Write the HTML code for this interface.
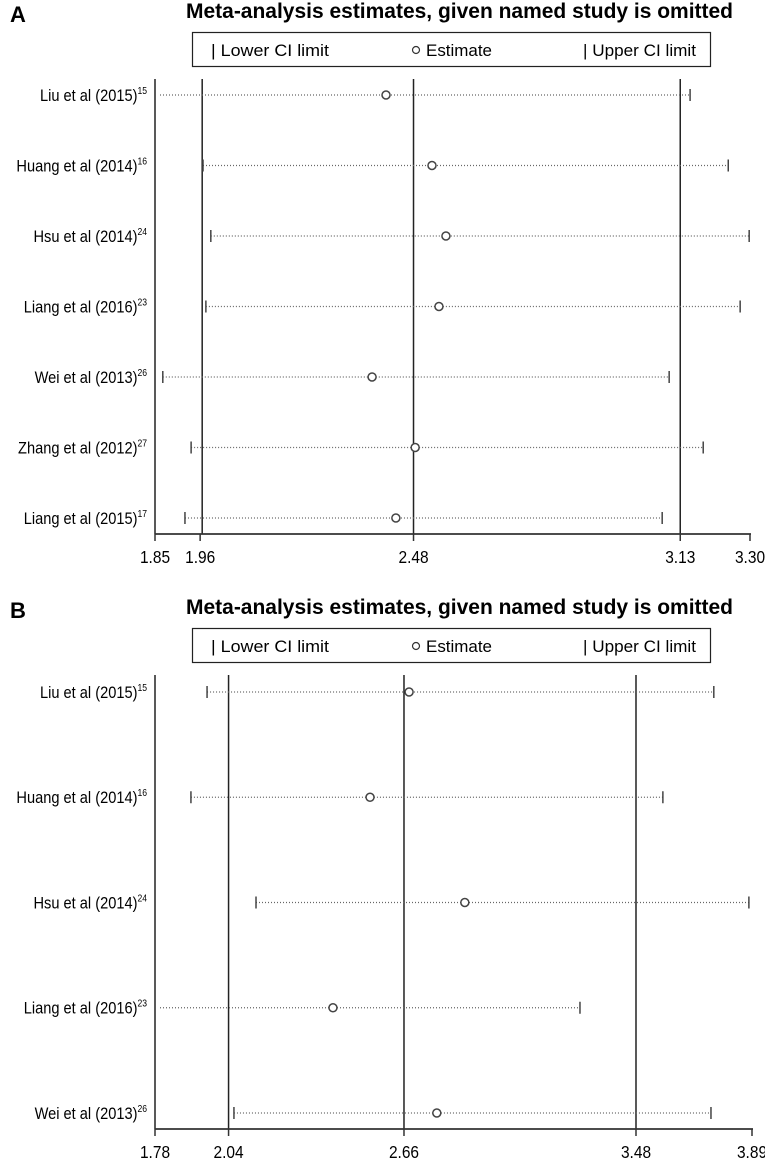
<!DOCTYPE html>
<html><head><meta charset="utf-8"><style>
html,body{margin:0;padding:0;background:#fff}
svg{display:block;font-family:"Liberation Sans",Arial,sans-serif}
</style></head><body>
<svg id="chart" width="765" height="1158" viewBox="0 0 765 1158" xmlns="http://www.w3.org/2000/svg"></svg>
<script>
const studiesA = ["Liu et al (2015)","Huang et al (2014)","Hsu et al (2014)","Liang et al (2016)","Wei et al (2013)","Zhang et al (2012)","Liang et al (2015)"];
const refsA = ["15","16","24","23","26","27","17"];
const lowerA = [1.83,1.967,1.986,1.974,1.869,1.938,1.923];
const estA = [2.413,2.525,2.559,2.542,2.379,2.484,2.437];
const upperA = [3.154,3.247,3.298,3.276,3.103,3.186,3.086];
const ticksA = [1.85,1.96,2.48,3.13,3.30];
const refLinesA = [1.965,2.48,3.13];

const studiesB = ["Liu et al (2015)","Huang et al (2014)","Hsu et al (2014)","Liang et al (2016)","Wei et al (2013)"];
const refsB = ["15","16","24","23","26"];
const lowerB = [1.964,1.907,2.137,1.70,2.059];
const estB = [2.678,2.540,2.875,2.409,2.776];
const upperB = [3.755,3.575,3.879,3.282,3.745];
const ticksB = [1.78,2.04,2.66,3.48,3.89];
const refLinesB = [2.04,2.66,3.48];

const NS="http://www.w3.org/2000/svg";
const svg=document.getElementById('chart');
function mk(tag,attrs,parent,text){const e=document.createElementNS(NS,tag);for(const k in attrs)e.setAttribute(k,attrs[k]);if(text!==undefined)e.textContent=text;(parent||svg).appendChild(e);return e;}

function panel(cfg){
  const g=mk('g',{});
  
  
  const x=v=>cfg.x0+(v-cfg.dmin)/(cfg.dmax-cfg.dmin)*(cfg.x1-cfg.x0);
  const L=mk('text',{x:10,y:cfg.top+22,'font-size':22,'font-weight':'bold'},g,cfg.letter);
  
  
  const T=mk('text',{x:186,y:cfg.top+18,'font-size':21,'font-weight':'bold',textLength:547,lengthAdjust:'spacingAndGlyphs'},g,'Meta-analysis estimates, given named study is omitted');
  
  
  const lg=mk('g',{},g);
  
  
  mk('rect',{x:192.5,y:cfg.top+32.5,width:518,height:34,fill:'none',stroke:'#222','stroke-width':1.2},lg);
  const ly=cfg.top+56;
  const e1=mk('text',{x:211,y:ly,'font-size':17,textLength:118,lengthAdjust:'spacingAndGlyphs'},lg,'| Lower CI limit');
  
  
  mk('circle',{cx:416,cy:ly-6,r:3.5,fill:'none',stroke:'#333','stroke-width':1.2},lg);
  const e2=mk('text',{x:426,y:ly,'font-size':17,textLength:66,lengthAdjust:'spacingAndGlyphs'},lg,'Estimate');
  
  
  const e3=mk('text',{x:583,y:ly,'font-size':17,textLength:113,lengthAdjust:'spacingAndGlyphs'},lg,'| Upper CI limit');
  
  
  const ytop=cfg.top+79, yax=cfg.axisY;
  mk('line',{x1:cfg.x0,y1:ytop,x2:cfg.x0,y2:yax,stroke:'#222','stroke-width':1.5},g);
  cfg.refs.forEach(v=>{
    const l=mk('line',{x1:x(v),y1:ytop,x2:x(v),y2:yax,stroke:'#222','stroke-width':1.5},g);
    
    
  });
  const ax=mk('g',{},g);
  
  
  mk('line',{x1:cfg.x0,y1:yax,x2:cfg.x1+1,y2:yax,stroke:'#333','stroke-width':1.8},ax);
  cfg.ticks.forEach(v=>{
    mk('line',{x1:x(v),y1:yax,x2:x(v),y2:yax+7,stroke:'#333','stroke-width':1.5},ax);
    const tg=mk('g',{transform:`translate(${x(v)},0) scale(0.86,1)`},ax);
    const t=mk('text',{x:0,y:yax+29,'font-size':18,'text-anchor':'middle'},tg,v.toFixed(2));
    
    
  });
  cfg.studies.forEach((s,i)=>{
    const y=cfg.row0+i*cfg.rowStep;
    const lgp=mk('g',{transform:'translate(147,0) scale(0.86,1)'},g);
    const lab=mk('text',{x:0,y:y+6,'font-size':17,'text-anchor':'end'},lgp);
    
    
    mk('tspan',{},lab,s);
    mk('tspan',{'font-size':10,dy:-7},lab,cfg.sup[i]);
    const lo=Math.max(cfg.lower[i],cfg.dmin), hi=cfg.upper[i];
    const xs=cfg.lower[i]<cfg.dmin?cfg.x0+5:x(lo);
    const dl=mk('line',{x1:xs,y1:y,x2:x(hi),y2:y,stroke:'#666','stroke-width':1.2,'stroke-dasharray':'1,2'},g);
    
    
    if(cfg.lower[i]>=cfg.dmin){
      const tl=mk('line',{x1:x(lo),y1:y-6,x2:x(lo),y2:y+6,stroke:'#444','stroke-width':1.5},g);
      
      
    }
    const tu=mk('line',{x1:x(hi),y1:y-6,x2:x(hi),y2:y+6,stroke:'#444','stroke-width':1.5},g);
    
    
    const c=mk('circle',{cx:x(cfg.est[i]),cy:y,r:4,fill:'#fff',stroke:'#444','stroke-width':1.5},g);
    
    
  });
}
panel({letter:'A',top:0,x0:155,x1:750,dmin:1.85,dmax:3.30,axisY:534,row0:95,rowStep:70.5,
  studies:studiesA,sup:refsA,lower:lowerA,est:estA,upper:upperA,ticks:ticksA,refs:refLinesA});
panel({letter:'B',top:596,x0:155,x1:752,dmin:1.78,dmax:3.89,axisY:1129,row0:692,rowStep:105.25,
  studies:studiesB,sup:refsB,lower:lowerB,est:estB,upper:upperB,ticks:ticksB,refs:refLinesB});
</script>
</body></html>
